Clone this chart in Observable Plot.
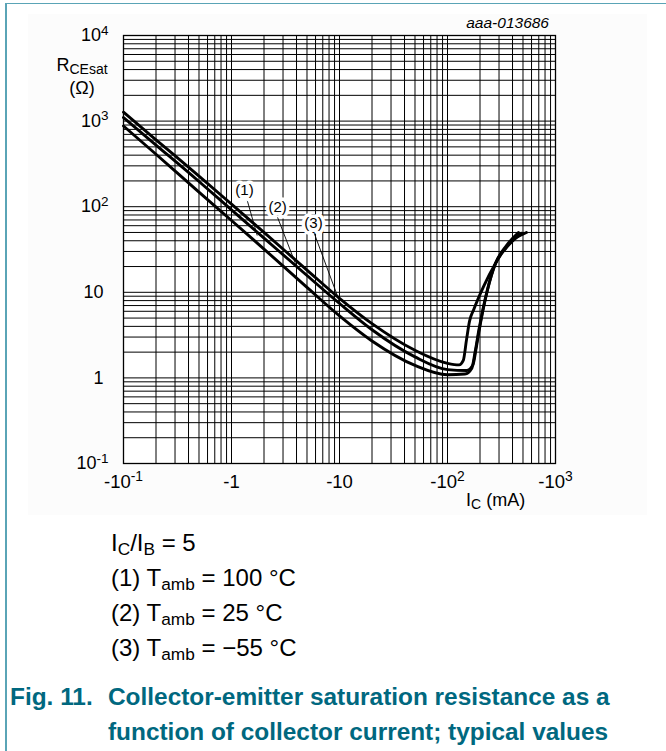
<!DOCTYPE html>
<html><head><meta charset="utf-8">
<script src="https://cdn.jsdelivr.net/npm/d3@7"></script>
<script src="https://cdn.jsdelivr.net/npm/@observablehq/plot@0.6"></script>
<style>
html,body{margin:0;padding:0;background:#fff;}
#wrap{position:relative;width:666px;height:751px;overflow:hidden;font-family:"Liberation Sans",Arial,sans-serif;color:#000;}
.vline{position:absolute;left:5px;top:3px;width:1.5px;height:760px;background:#5aa4b6;}
.hline{position:absolute;left:5px;top:2.5px;width:670px;height:1.5px;background:#5aa4b6;}
#bg{position:absolute;left:28px;top:14px;width:619px;height:501px;background:#fcfcfc;}
#chart{position:absolute;left:0;top:0;}
.leg{position:absolute;left:111px;font-size:24px;line-height:1;white-space:nowrap;}
.leg sub{font-size:0.72em;vertical-align:-0.25em;line-height:0;}
.cap{position:absolute;font-size:24.4px;font-weight:bold;color:#00687f;line-height:1;white-space:nowrap;}
</style></head><body>
<div id="wrap">
  <div class="vline"></div><div class="hline"></div>
  <div id="bg"></div>
  <div id="chart"></div>
</div>
<script>
// ---- data (|IC| in mA, RCEsat in ohm) ----
const seriesNames = ["(3) -55 °C", "(2) 25 °C", "(1) 100 °C"];
const curveA_I = [0.1, 0.2, 0.5, 1, 2, 5, 10, 20, 50, 100, 128, 140, 150, 160, 175, 215, 278, 350, 538];
const curveA_R = [1270, 605, 228, 107, 50, 18.2, 8.5, 4.3, 2.1, 1.48, 1.42, 1.6, 2.8, 4.6, 6.3, 11.6, 21.7, 34, 50];
const curveB_I = [0.1, 0.2, 0.5, 1, 2, 5, 10, 20, 50, 100, 150, 172, 184, 195, 234, 278, 350, 484];
const curveB_R = [1100, 525, 197, 92, 43, 15.7, 7.4, 3.65, 1.76, 1.25, 1.22, 1.42, 2.2, 3.4, 10.5, 21.7, 33, 49];
const curveC_I = [0.1, 0.2, 0.5, 1, 2, 5, 10, 20, 50, 100, 145, 168, 180, 195, 234, 278, 350, 454];
const curveC_R = [877, 410, 148, 69, 32, 11.4, 5.3, 2.7, 1.4, 1.09, 1.11, 1.3, 2.0, 3.6, 10.7, 21.7, 35, 50];

// curve labels and leader lines (data coordinates)
const labelText = ["(1)", "(2)", "(3)"];
const labelI = [1.32, 2.67, 5.74];
const labelR = [154, 100, 65];
const leaderStartI = [1.40, 2.67, 5.8];
const leaderStartR = [118, 75, 50];
const leaderEndI = [1.73, 3.92, 10.2];
const leaderEndR = [46, 21.5, 7.3];

// axes
const xTickValues = [0.1, 1, 10, 100, 1000];
const xTickLabels = ["-10^-1", "-1", "-10", "-10^2", "-10^3"];
const yTickValues = [0.1, 1, 10, 100, 1000, 10000];
const yTickLabels = ["10^-1", "1", "10", "10^2", "10^3", "10^4"];
const gridMultipliers = [1, 2, 3, 4, 5, 6, 7, 8, 9];

const legendHeader = "I<sub>C</sub>/I<sub>B</sub> = 5";
const legendTemps = ["100 °C", "25 °C", "\u221255 °C"];
const captionNumber = "Fig. 11.";
const captionLines = ["Collector-emitter saturation resistance as a", "function of collector current; typical values"];

// ---- build tables ----
const curves = [[curveA_I, curveA_R], [curveB_I, curveB_R], [curveC_I, curveC_R]]
  .map(([I, R], k) => I.map((v, i) => ({I: v, R: R[i], s: seriesNames[k]})));
const gridX = xTickValues.slice(0, -1).flatMap(d => gridMultipliers.map(m => d * m)).concat([1000]);
const gridY = yTickValues.slice(0, -1).flatMap(d => gridMultipliers.map(m => d * m)).concat([10000]);
const labels = labelText.map((t, i) => ({t, I: labelI[i], R: labelR[i]}));
const leaders = labelText.map((t, i) => ({x1: leaderStartI[i], y1: leaderStartR[i], x2: leaderEndI[i], y2: leaderEndR[i]}));

const xfmt = new Map(xTickValues.map((v, i) => [v, xTickLabels[i]]));
const yfmt = new Map(yTickValues.map((v, i) => [v, yTickLabels[i]]));

const plot = Plot.plot({
  width: 666, height: 520,
  marginLeft: 123, marginRight: 111, marginTop: 35, marginBottom: 57,
  style: {fontFamily: '"Liberation Sans", Arial, sans-serif', background: "transparent", color: "#000"},
  x: {type: "log", domain: [0.1, 1000]},
  y: {type: "log", domain: [0.1, 10000]},
  marks: [
    Plot.frame({fill: "white", stroke: "none"}),
    Plot.ruleX(gridX, {stroke: "#000", strokeWidth: 1}),
    Plot.ruleY(gridY, {stroke: "#000", strokeWidth: 1}),
    Plot.frame({stroke: "#000", strokeWidth: 1.3}),
    ...curves.map(c => Plot.line(c, {x: "I", y: "R", stroke: "#000", strokeWidth: 2.9, curve: "monotone-x"})),
    Plot.link(leaders, {x1: "x1", y1: "y1", x2: "x2", y2: "y2", stroke: "#000", strokeWidth: 0.9}),
    Plot.text(labels, {x: "I", y: "R", text: "t", fontSize: 15, fill: "#000", stroke: "white", strokeWidth: 7}),
    Plot.axisX({ticks: xTickValues, tickFormat: d => xfmt.get(d), tickSize: 0, tickPadding: 11, fontSize: 18.5, label: null}),
    Plot.axisY({ticks: yTickValues, tickFormat: d => yfmt.get(d), tickSize: 0, tickPadding: 15, fontSize: 18, label: null})
  ]
});

// superscripts in tick labels
const NS = "http://www.w3.org/2000/svg";
plot.querySelectorAll('g[aria-label="x-axis tick label"] text, g[aria-label="y-axis tick label"] text').forEach(t => {
  const s = t.textContent;
  const i = s.indexOf("^");
  if (i < 0) return;
  t.textContent = "";
  const a = document.createElementNS(NS, "tspan"); a.textContent = s.slice(0, i);
  const b = document.createElementNS(NS, "tspan"); b.textContent = s.slice(i + 1);
  b.setAttribute("dy", "-0.5em"); b.setAttribute("font-size", "0.75em");
  t.append(a, b);
});
plot.querySelectorAll('g[aria-label="y-axis tick label"] text').forEach(t => {
  if (t.querySelectorAll("tspan").length === 0) t.setAttribute("dx", "-5");
});

// axis titles and code
const svg = d3.select(plot);
const yl = svg.append("text").attr("x", 82).attr("y", 71).attr("text-anchor", "middle").attr("font-size", 18).attr("fill", "#000");
yl.append("tspan").text("R");
yl.append("tspan").text("CEsat").attr("font-size", 14).attr("dy", 3);
svg.append("text").attr("x", 82).attr("y", 94).attr("text-anchor", "middle").attr("font-size", 18).attr("fill", "#000").text("(\u03A9)");
const xl = svg.append("text").attr("x", 466).attr("y", 506).attr("text-anchor", "start").attr("font-size", 18).attr("fill", "#000");
xl.append("tspan").text("I");
xl.append("tspan").text("C").attr("font-size", 14).attr("dy", 3);
xl.append("tspan").text(" (mA)").attr("dy", -3);
svg.append("text").attr("x", 549).attr("y", 28).attr("text-anchor", "end").attr("font-size", 15.5).attr("font-style", "italic").attr("fill", "#000").text("aaa-013686");

document.getElementById("chart").append(plot);

// legend & caption
const wrap = document.getElementById("wrap");
const legBase = [551, 586, 621, 656];
const legHtml = [legendHeader].concat(legendTemps.map((t, i) => `(${i + 1}) T<sub>amb</sub> = ${t}`));
legHtml.forEach((h, i) => {
  const d = document.createElement("div");
  d.className = "leg"; d.innerHTML = h;
  d.style.top = (legBase[i] - 0.8465 * 24) + "px";
  wrap.append(d);
});
const capBase = [706, 741];
const c0 = document.createElement("div"); c0.className = "cap"; c0.textContent = captionNumber;
c0.style.left = "10px"; c0.style.top = (capBase[0] - 0.8465 * 24.4) + "px"; wrap.append(c0);
captionLines.forEach((t, i) => {
  const d = document.createElement("div"); d.className = "cap"; d.textContent = t;
  d.style.left = "108px"; d.style.top = (capBase[i] - 0.8465 * 24.4) + "px"; wrap.append(d);
});
</script>
</body></html>
